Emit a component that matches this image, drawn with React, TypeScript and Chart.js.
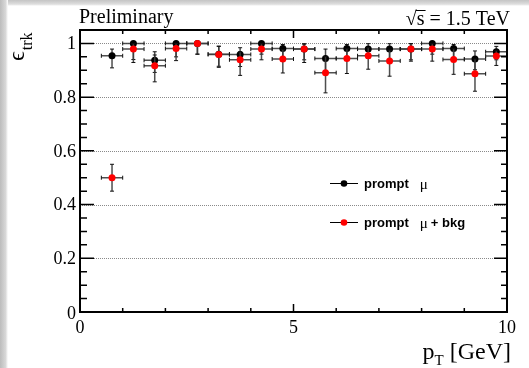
import React, { useEffect, useRef } from 'react';
import { Chart, registerables } from 'chart.js';

Chart.register(...registerables);

// ---- data ----
const binCenters = [0.75, 1.25, 1.75, 2.25, 2.75, 3.25, 3.75, 4.25, 4.75, 5.25, 5.75, 6.25, 6.75, 7.25, 7.75, 8.25, 8.75, 9.25, 9.75];
const binHalfWidth = 0.25;

const promptMu = [0.954, 1.0, 0.937, 1.0, 1.0, 0.96, 0.959, 1.0, 0.981, 0.979, 0.944, 0.981, 0.979, 0.979, 0.979, 1.0, 0.981, 0.942, 0.969];
const promptMuErrLo = [0.045, 0.06, 0.045, 0.05, 0.04, 0.045, 0.045, 0.04, 0.035, 0.04, 0.045, 0.03, 0.035, 0.04, 0.04, 0.04, 0.035, 0.04, 0.03];
const promptMuErrHi = [0.025, 0, 0.032, 0, 0, 0.03, 0.025, 0, 0.015, 0.02, 0.035, 0.015, 0.02, 0.02, 0.02, 0, 0.015, 0.03, 0.02];

const promptMuBkg = [0.5, 0.979, 0.917, 0.981, 1.0, 0.959, 0.939, 0.979, 0.942, 0.979, 0.891, 0.944, 0.954, 0.935, 0.979, 0.979, 0.94, 0.887, 0.953];
const promptMuBkgErrLo = [0.05, 0.05, 0.06, 0.045, 0.04, 0.048, 0.058, 0.04, 0.052, 0.05, 0.075, 0.056, 0.05, 0.057, 0.045, 0.045, 0.055, 0.065, 0.035];
const promptMuBkgErrHi = [0.05, 0.02, 0.04, 0.019, 0, 0.03, 0.03, 0.02, 0.035, 0.018, 0.06, 0.036, 0.03, 0.04, 0.02, 0.02, 0.04, 0.055, 0.02];

const seriesNames = ['prompt', 'prompt'];
const seriesSuffix = ['', '+ bkg'];
const seriesColors = ['#000000', '#ff0000'];

const yMajorTicks = [0, 0.2, 0.4, 0.6, 0.8, 1];
const yTickLabels = ['0', '0.2', '0.4', '0.6', '0.8', '1'];
const xMajorTicks = [0, 5, 10];
const xTickLabels = ['0', '5', '10'];
const xMin = 0, xMax = 10, yMin = 0, yMax = 1.05;

const SERIF = '"Liberation Serif", "Times New Roman", serif';
const SANS = '"Liberation Sans", Arial, sans-serif';

const errLo = [promptMuErrLo, promptMuBkgErrLo];
const errHi = [promptMuErrHi, promptMuBkgErrHi];

const errorBarPlugin = {
  id: 'errorBars',
  beforeDatasetDraw(chart: any, args: any) {
    const ctx = chart.ctx;
    const xs = chart.scales.x, ys = chart.scales.y;
    const si = chart.data.datasets[args.index].seriesIndex;
    const data = chart.data.datasets[args.index].data;
    ctx.save();
    data.forEach((p: any, i: number) => {
      const px = xs.getPixelForValue(p.x);
      const py = ys.getPixelForValue(p.y);
      const xl = xs.getPixelForValue(p.x - binHalfWidth);
      const xr = xs.getPixelForValue(p.x + binHalfWidth);
      const yl = ys.getPixelForValue(p.y - errLo[si][i]);
      const yh = ys.getPixelForValue(p.y + errHi[si][i]);
      ctx.strokeStyle = 'rgba(60,60,60,0.9)';
      ctx.lineWidth = 1.5;
      ctx.beginPath();
      ctx.moveTo(xl, py); ctx.lineTo(xr, py);
      ctx.moveTo(px, yl); ctx.lineTo(px, yh);
      ctx.stroke();
      ctx.strokeStyle = '#111';
      ctx.lineWidth = 1;
      ctx.beginPath();
      ctx.moveTo(xl, py - 2); ctx.lineTo(xl, py + 2);
      ctx.moveTo(xr, py - 2); ctx.lineTo(xr, py + 2);
      if (errLo[si][i] > 0) { ctx.moveTo(px - 2, yl); ctx.lineTo(px + 2, yl); }
      if (errHi[si][i] > 0) { ctx.moveTo(px - 2, yh); ctx.lineTo(px + 2, yh); }
      ctx.stroke();
    });
    ctx.restore();
  },
};

const backgroundPlugin = {
  id: 'bgAndGrid',
  beforeDraw(chart: any) {
    const ctx = chart.ctx;
    const W = chart.width, H = chart.height;
    ctx.save();
    ctx.fillStyle = '#ffffff';
    ctx.fillRect(0, 0, W, H);
    let g = ctx.createLinearGradient(0, 0, 8, 0);
    g.addColorStop(0, '#bcbcbc');
    g.addColorStop(0.7, '#d8d8d8');
    g.addColorStop(1, '#ffffff');
    ctx.fillStyle = g;
    ctx.fillRect(0, 0, 8, H);
    g = ctx.createLinearGradient(0, 0, 0, 6);
    g.addColorStop(0, '#c4c4c4');
    g.addColorStop(0.7, '#dedede');
    g.addColorStop(1, '#ffffff');
    ctx.fillStyle = g;
    ctx.fillRect(8, 0, W - 8, 6);
    ctx.restore();
  },
  beforeDatasetsDraw(chart: any) {
    const ctx = chart.ctx;
    const { left, right } = chart.chartArea;
    const ys = chart.scales.y;
    ctx.save();
    ctx.strokeStyle = '#8a8a8a';
    ctx.lineWidth = 1;
    ctx.setLineDash([1, 1]);
    yMajorTicks.forEach((v) => {
      if (v === 0) return;
      const py = Math.round(ys.getPixelForValue(v)) + 0.5;
      ctx.beginPath();
      ctx.moveTo(left, py);
      ctx.lineTo(right, py);
      ctx.stroke();
    });
    ctx.restore();
  },
};

const framePlugin = {
  id: 'frame',
  afterDraw(chart: any) {
    const ctx = chart.ctx;
    const { left, right, top, bottom } = chart.chartArea;
    const xs = chart.scales.x, ys = chart.scales.y;
    ctx.save();
    ctx.strokeStyle = '#000';
    // ticks
    ctx.lineWidth = 1.5;
    ctx.beginPath();
    for (let k = 0; k <= Math.round((yMax - yMin) / 0.05); k++) {
      const v = yMin + k * 0.05;
      if (v > yMax + 1e-9) break;
      const major = Math.abs(v / 0.2 - Math.round(v / 0.2)) < 1e-6;
      const py = ys.getPixelForValue(v);
      const len = major ? 14 : 7;
      ctx.moveTo(left, py); ctx.lineTo(left + len, py);
      ctx.moveTo(right, py); ctx.lineTo(right - (major ? 13 : 6), py);
    }
    for (let v = xMin; v <= xMax; v += 1) {
      const major = v % 5 === 0;
      const px = xs.getPixelForValue(v);
      const len = major ? 8 : 4;
      ctx.moveTo(px, bottom); ctx.lineTo(px, bottom - len);
      ctx.moveTo(px, top); ctx.lineTo(px, top + len);
    }
    ctx.stroke();
    // frame
    ctx.lineWidth = 2;
    ctx.strokeRect(left, top, right - left, bottom - top);

    // tick labels
    ctx.fillStyle = '#000';
    ctx.font = `18px ${SERIF}`;
    ctx.textAlign = 'right';
    ctx.textBaseline = 'middle';
    yMajorTicks.forEach((v, i) => {
      const py = ys.getPixelForValue(v) + (v === 0 ? 2 : 1);
      ctx.fillText(yTickLabels[i], left - 4, py);
    });
    ctx.textAlign = 'center';
    ctx.textBaseline = 'top';
    xMajorTicks.forEach((v, i) => {
      ctx.fillText(xTickLabels[i], xs.getPixelForValue(v), bottom + 7);
    });

    // Preliminary
    ctx.textAlign = 'left';
    ctx.textBaseline = 'alphabetic';
    ctx.font = `20px ${SERIF}`;
    ctx.fillText('Preliminary', 79, 23);

    // sqrt(s) = 1.5 TeV
    const rest = ' = 1.5 TeV';
    const wRoot = ctx.measureText('√').width;
    const wS = ctx.measureText('s').width;
    const wRest = ctx.measureText(rest).width;
    const x0 = 510 - (wRoot + wS + wRest);
    ctx.fillText('√', x0, 25);
    ctx.fillText('s', x0 + wRoot, 25);
    ctx.fillText(rest, x0 + wRoot + wS, 25);
    ctx.lineWidth = 1;
    ctx.beginPath();
    ctx.moveTo(x0 + wRoot - 1, 10.5);
    ctx.lineTo(x0 + wRoot + wS + 1, 10.5);
    ctx.stroke();

    // x title
    ctx.font = `24px ${SERIF}`;
    const wp = ctx.measureText('p').width;
    const wGeV = ctx.measureText(' [GeV]').width;
    ctx.font = `15px ${SERIF}`;
    const wT = ctx.measureText('T').width;
    const xt0 = 511 - (wp + wT + wGeV);
    ctx.font = `24px ${SERIF}`;
    ctx.fillText('p', xt0, 359);
    ctx.fillText(' [GeV]', xt0 + wp + wT, 359);
    ctx.font = `15px ${SERIF}`;
    ctx.fillText('T', xt0 + wp, 365);

    // y title
    ctx.save();
    ctx.translate(24, 61);
    ctx.rotate(-Math.PI / 2);
    ctx.font = `24px ${SERIF}`;
    ctx.fillText('ϵ', 0, 0);
    const we = ctx.measureText('ϵ').width;
    ctx.font = `16px ${SERIF}`;
    ctx.fillText('trk', we + 1, 8);
    ctx.restore();

    // legend
    const legY = [183, 222];
    legY.forEach((ly, si) => {
      ctx.strokeStyle = '#000';
      ctx.lineWidth = 1;
      ctx.beginPath();
      ctx.moveTo(330, ly + 0.5); ctx.lineTo(358, ly + 0.5);
      ctx.stroke();
      ctx.fillStyle = seriesColors[si];
      ctx.beginPath();
      ctx.arc(344, ly + 0.5, 3.3, 0, Math.PI * 2);
      ctx.fill();
      ctx.fillStyle = '#000';
      ctx.textBaseline = 'middle';
      ctx.font = `bold 13px ${SANS}`;
      ctx.fillText(seriesNames[si], 364, ly + 1);
      const wn = ctx.measureText(seriesNames[si]).width;
      ctx.font = `15px ${SERIF}`;
      const muX = 364 + wn + 11;
      ctx.fillText('μ', muX, ly + 2);
      const wm = ctx.measureText('μ').width;
      if (seriesSuffix[si]) {
        ctx.font = `bold 13px ${SANS}`;
        ctx.fillText(seriesSuffix[si], muX + wm + 3, ly + 1);
      }
    });
    ctx.restore();
  },
};

export default function App() {
  const ref = useRef<HTMLCanvasElement | null>(null);
  useEffect(() => {
    if (!ref.current) return;
    const chart = new Chart(ref.current, {
      type: 'scatter',
      data: {
        datasets: [
          {
            label: 'prompt μ + bkg',
            seriesIndex: 1,
            order: 0,
            data: binCenters.map((x, i) => ({ x, y: promptMuBkg[i] })),
            backgroundColor: seriesColors[1],
            borderColor: seriesColors[1],
            pointRadius: 3.5,
            borderWidth: 0,
          } as any,
          {
            label: 'prompt μ',
            seriesIndex: 0,
            order: 1,
            data: binCenters.map((x, i) => ({ x, y: promptMu[i] })),
            backgroundColor: seriesColors[0],
            borderColor: seriesColors[0],
            pointRadius: 3.5,
            borderWidth: 0,
          } as any,
        ],
      },
      options: {
        responsive: false,
        animation: false,
        layout: { padding: { left: 80, right: 22, top: 30, bottom: 56 } },
        scales: {
          x: { type: 'linear', min: xMin, max: xMax, display: false },
          y: { type: 'linear', min: yMin, max: yMax, display: false },
        },
        plugins: { legend: { display: false }, tooltip: { enabled: false } },
      },
      plugins: [backgroundPlugin, errorBarPlugin, framePlugin],
    });
    return () => chart.destroy();
  }, []);
  return (
    <div style={{ position: 'absolute', left: 0, top: 0, width: 529, height: 368 }}>
      <canvas ref={ref} width={529} height={368} style={{ display: 'block' }} />
    </div>
  );
}
